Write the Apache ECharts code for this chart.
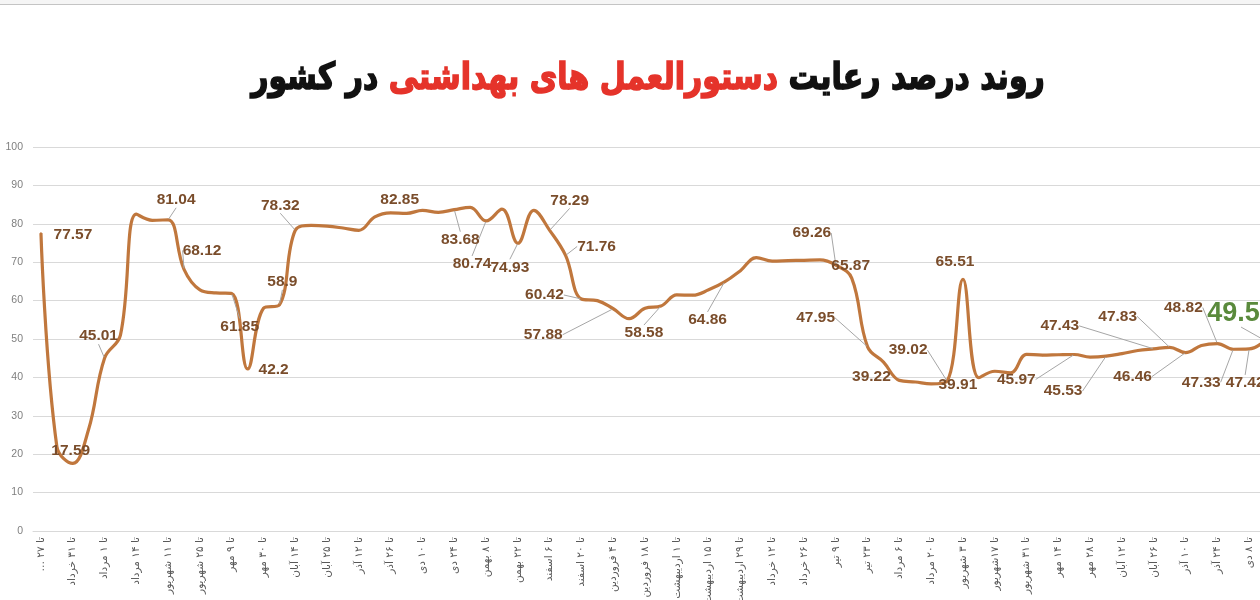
<!DOCTYPE html>
<html><head><meta charset="utf-8">
<script src="https://cdn.jsdelivr.net/npm/echarts@6/dist/echarts.min.js"></script>
<style>html,body{margin:0;padding:0;background:#fff}#c{width:1260px;height:600px}</style>
</head><body><div id="c"></div>
<script>
const tickLabels = [
  'تا ۲۷ …\u200F','تا ۳۱ خرداد','تا ۱ مرداد','تا ۱۴ مرداد','تا ۱۱ شهریور','تا ۲۵ شهریور','تا ۹ مهر','تا ۳۰ مهر','تا ۱۴ آبان',
  'تا ۲۵ آبان','تا ۱۲ آذر','تا ۲۶ آذر','تا ۱۰ دی','تا ۲۴ دی','تا ۸ بهمن','تا ۲۲ بهمن','تا ۶ اسفند','تا ۲۰ اسفند','تا ۴ فروردین',
  'تا ۱۸ فروردین','تا ۱ اردیبهشت','تا ۱۵ اردیبهشت','تا ۲۹ اردیبهشت','تا ۱۲ خرداد','تا ۲۶ خرداد','تا ۹ تیر','تا ۲۳ تیر','تا ۶ مرداد',
  'تا ۲۰ مرداد','تا ۳ شهریور','تا ۱۷شهریور','تا ۳۱ شهریور','تا ۱۴ مهر','تا ۲۸ مهر','تا ۱۲ آبان','تا ۲۶ آبان','تا ۱۰ آذر','تا ۲۴ آذر','تا ۸ دی'
];
const values = [
  77.57, 22, 17.59, 26.5, 45.01, 51, 82.5, 80.9, 81.04, 68.12,
  62.8, 62.0, 61.85, 42.2, 58, 58.9, 78.32, 79.6, 79.4, 78.9,
  78.3, 81.8, 82.85, 82.7, 83.5, 83.0, 83.68, 84.3, 80.74, 83.8,
  74.93, 83.5, 78.29, 71.76, 60.42, 60.0, 57.88, 55.3, 58.0, 58.58,
  61.5, 61.4, 62.8, 64.86, 67.8, 71.2, 70.3, 70.4, 70.5, 70.6,
  69.26, 65.87, 47.95, 44.0, 39.22, 38.8, 38.3, 39.02, 65.51, 39.91,
  41.6, 41.2, 46.0, 45.8, 45.9, 45.97, 45.3, 45.53, 46.2, 47.0,
  47.43, 47.83, 46.46, 48.3, 48.82, 47.33, 47.42, 49.59
];
const titleRight = 'روند درصد رعایت';
const titleRed = 'دستورالعمل های بهداشتی';
const titleLeft = 'در کشور';

// label placement: index -> [dx, dy, leader]
const labelOffsets = {
  0:[32,2,0], 2:[-2,-13,0], 4:[-6,-22,1], 8:[8,-20,1], 9:[18,-19,1], 12:[8,33,1], 13:[26,1,0],
  15:[3,-23,1], 16:[-15,-25,1], 22:[9,-13,0], 26:[6,30,1], 28:[-14,43,1], 30:[-8,24,1], 32:[20,-30,1],
  33:[31,-9,1], 34:[-37,-4,1], 36:[-70,26,1], 39:[-17,27,1], 43:[-17,38,1], 50:[-24,-32,1], 51:[-1,-12,0],
  52:[-52,-29,1], 54:[-28,-4,0], 57:[-39,-31,1], 58:[-8,-18,0], 59:[-21,7,0], 65:[-58,25,1], 67:[-43,35,1],
  70:[-94,-23,1], 71:[-52,-31,1], 72:[-53,24,1], 74:[-34,-36,1], 75:[-32,33,1], 76:[-4,34,1], 77:[-24,-27,1]
};
const highlightIndex = 77;

const xData = [];
values.forEach((v, i) => xData.push(i % 2 === 0 ? tickLabels[i / 2] : ''));

const seriesData = values.map((v, i) => {
  const o = labelOffsets[i];
  if (!o) return v;
  const hl = i === highlightIndex;
  return {
    value: v,
    label: {
      show: true,
      fontSize: hl ? 27 : 15.5,
      color: hl ? '#5a8a3c' : '#7a4d2b'
    },
    labelLine: { show: !!o[2] }
  };
});

const chart = echarts.init(document.getElementById('c'));
chart.setOption({
  animation: false,
  backgroundColor: '#fff',
  graphic: [
    { type: 'rect', shape: { x: 0, y: 0, width: 1260, height: 4 }, style: { fill: '#f5f5f5' } },
    { type: 'line', shape: { x1: 0, y1: 4.5, x2: 1260, y2: 4.5 }, style: { stroke: '#c4c4c4', lineWidth: 1 } },
    {
      type: 'text', x: 648, y: 79, scaleX: 0.81,
      style: {
        text: '{k|' + titleLeft + ' }{r|' + titleRed + ' }{k|' + titleRight + '}',
        align: 'center', verticalAlign: 'middle',
        rich: {
          k: { fontFamily: 'DejaVu Sans', fontWeight: 'bold', fontSize: 37, fill: '#111', stroke: '#111', lineWidth: 1.6 },
          r: { fontFamily: 'DejaVu Sans', fontWeight: 'bold', fontSize: 37, fill: '#e5332a', stroke: '#e5332a', lineWidth: 1.6 }
        }
      }
    }
  ],
  grid: { left: 33, right: -13, top: 147, bottom: 69, outerBoundsMode: 'none' },
  xAxis: {
    type: 'category',
    data: xData,
    boundaryGap: true,
    axisLine: { show: true, lineStyle: { color: '#d9d9d9' } },
    axisTick: { show: false },
    axisLabel: {
      interval: 1,
      rotate: 90,
      margin: 6,
      fontSize: 10.5,
      color: '#595959',
      fontFamily: 'DejaVu Sans'
    }
  },
  yAxis: {
    type: 'value',
    min: 0, max: 100, interval: 10,
    axisLine: { show: false },
    axisTick: { show: false },
    splitLine: { lineStyle: { color: '#d9d9d9', width: 1 } },
    axisLabel: { color: '#7f7f7f', fontSize: 10.5, margin: 10, fontFamily: 'Liberation Sans' }
  },
  series: [{
    type: 'line',
    data: seriesData,
    smooth: 0.4,
    showSymbol: true,
    showAllSymbol: true,
    symbol: 'circle',
    symbolSize: 2,
    itemStyle: { color: '#c0773d' },
    lineStyle: { color: '#c0773d', width: 3.2 },
    label: {
      show: false,
      position: 'inside',
      fontFamily: 'Liberation Sans',
      fontWeight: 'bold',
      formatter: p => String(p.value)
    },
    labelLine: { show: true, lineStyle: { color: '#a6a6a6', width: 1 } },
    labelLayout: function (p) {
      const o = labelOffsets[p.dataIndex];
      if (!o) return {};
      return { dx: o[0], dy: o[1] };
    },
    emphasis: { disabled: true }
  }]
});
</script>
</body></html>
